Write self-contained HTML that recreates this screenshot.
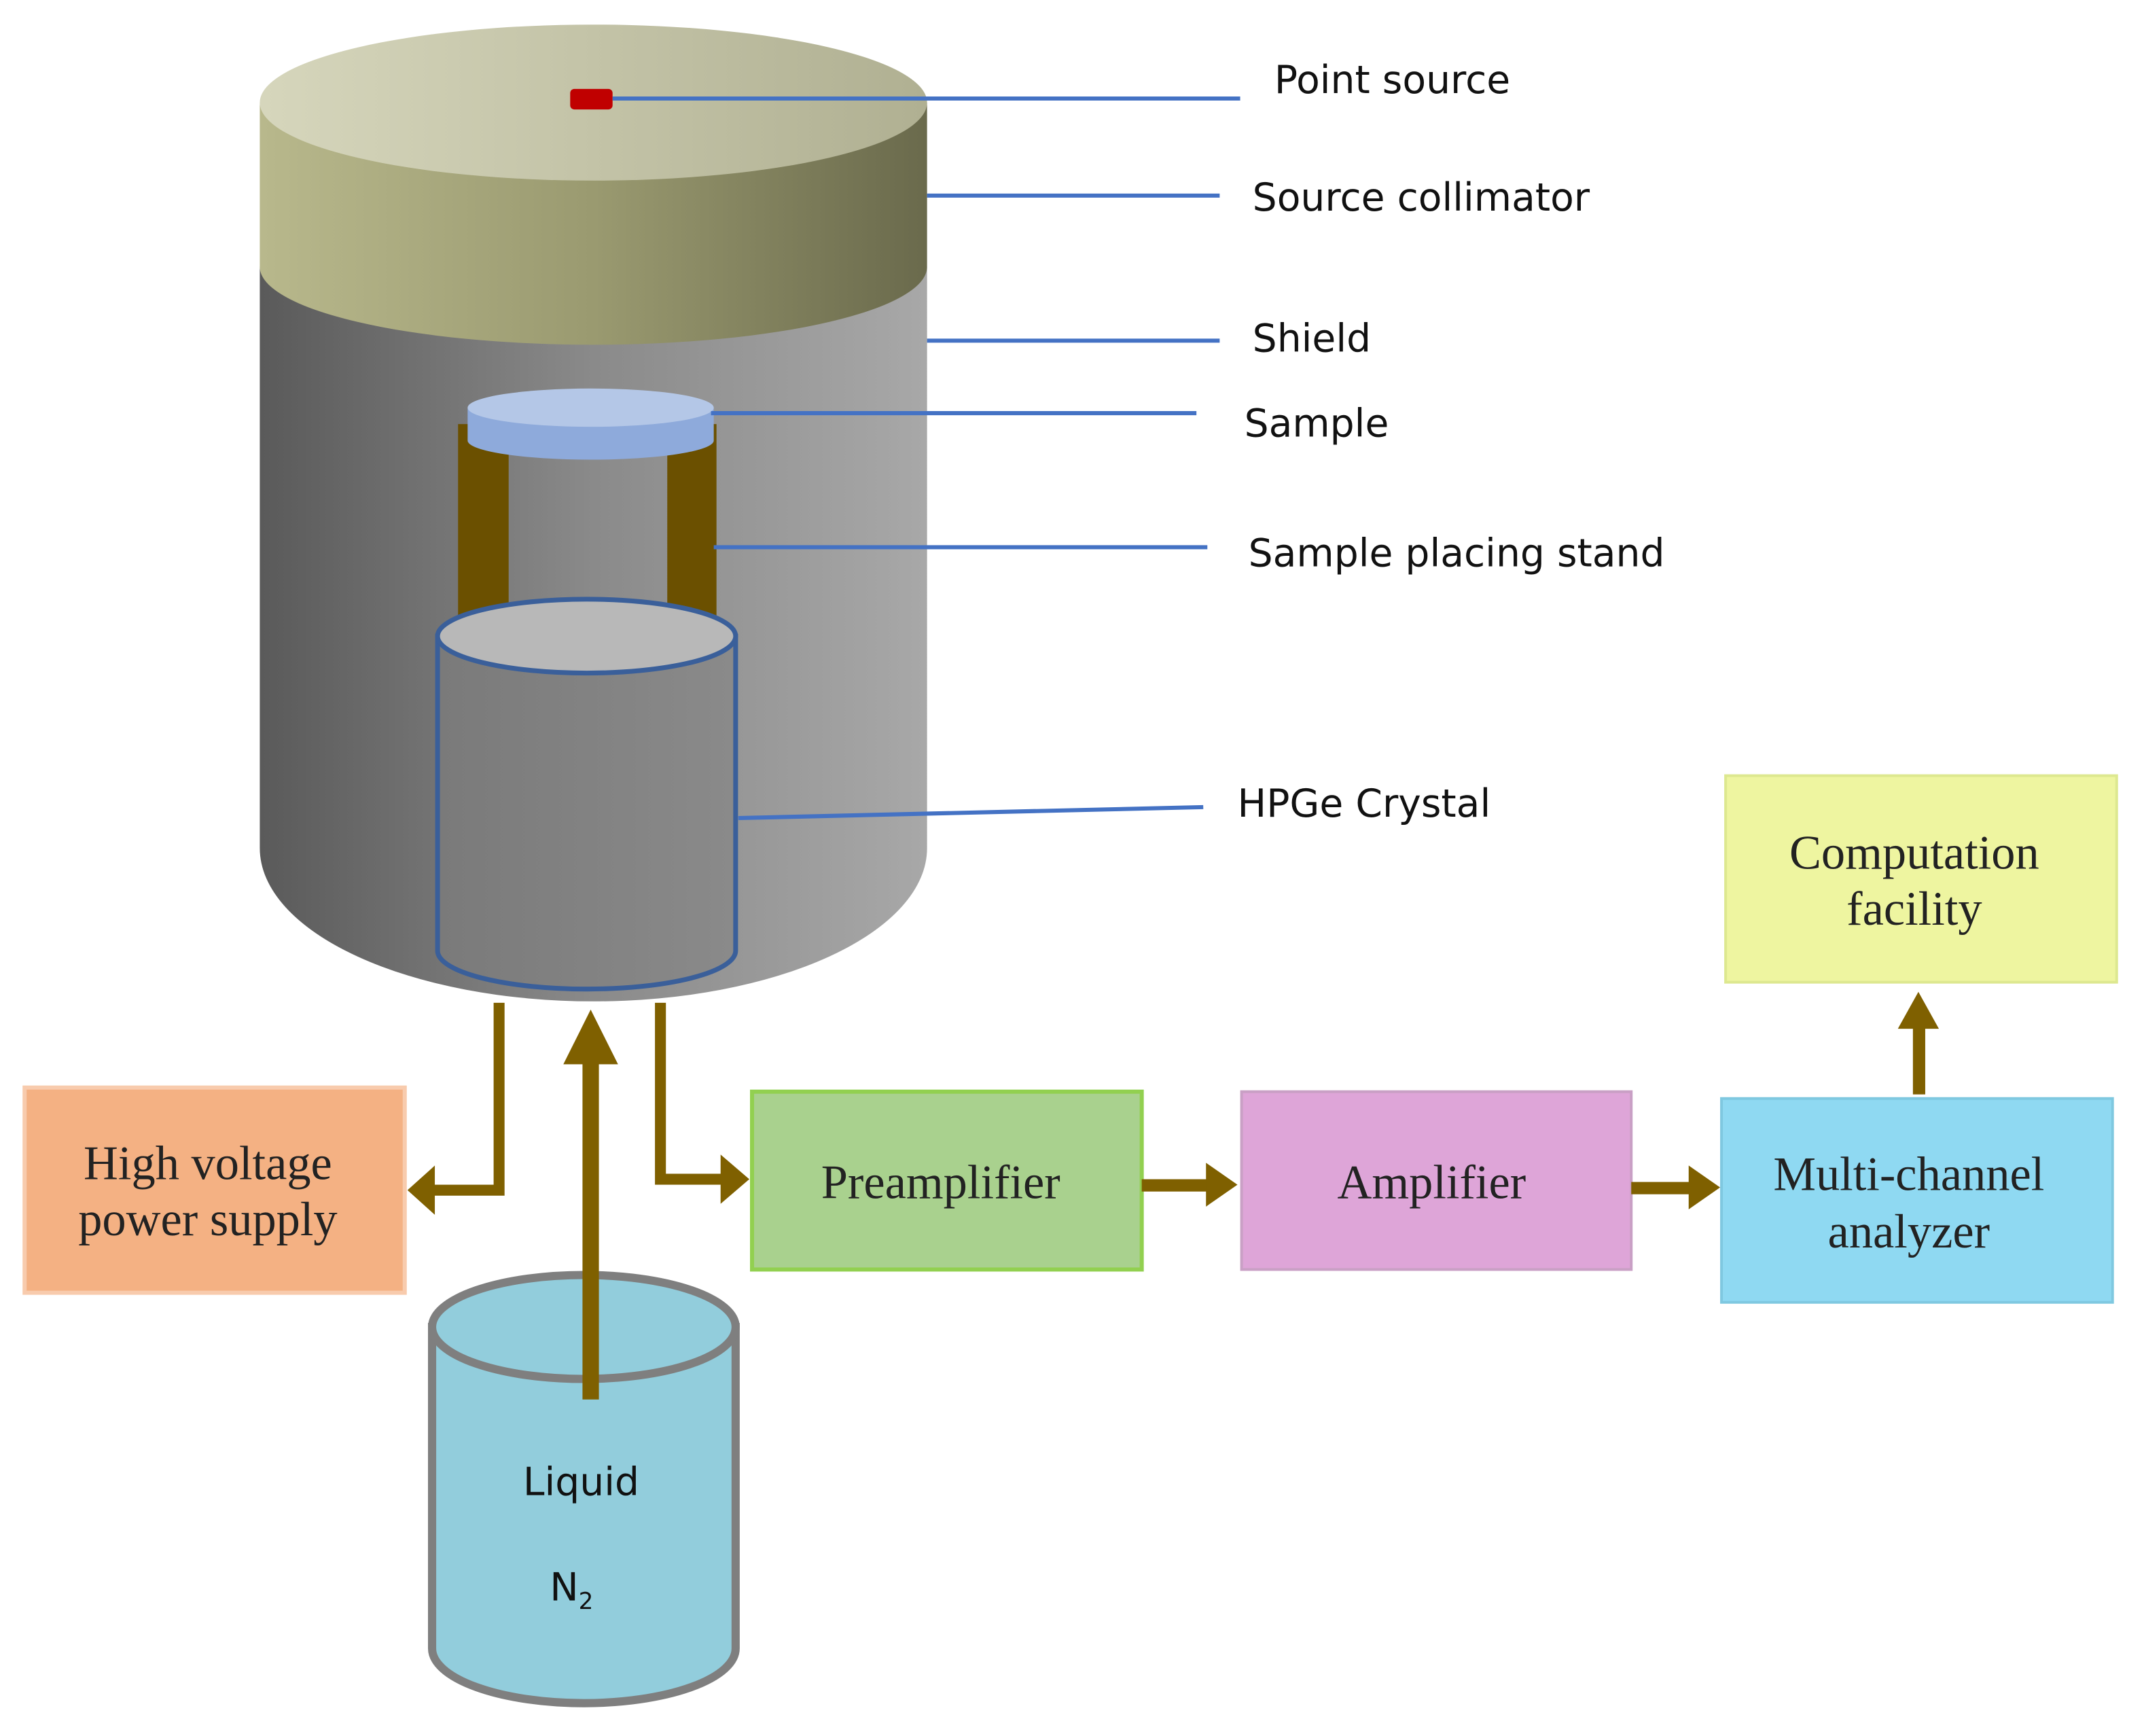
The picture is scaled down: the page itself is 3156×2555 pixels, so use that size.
<!DOCTYPE html>
<html><head><meta charset="utf-8"><style>
html,body{margin:0;padding:0;background:#fff;}
svg{display:block;}
.lbl{font-family:"DejaVu Sans","Liberation Sans",sans-serif;font-size:28.2px;fill:#111;}
.bx{font-family:"Liberation Serif",serif;font-size:35px;fill:#222;text-anchor:middle;}
</style></head><body>
<svg width="3156" height="2555" viewBox="0 0 1568 1269" preserveAspectRatio="none" xmlns="http://www.w3.org/2000/svg">
<defs>
<linearGradient id="sh" x1="0" x2="1"><stop offset="0" stop-color="#5a5a5a"/><stop offset="0.5" stop-color="#8a8a8a"/><stop offset="1" stop-color="#a8a8a8"/></linearGradient>
<linearGradient id="col" x1="0" x2="1"><stop offset="0" stop-color="#b8b88c"/><stop offset="0.5" stop-color="#9a9a70"/><stop offset="1" stop-color="#6a6a4c"/></linearGradient>
<linearGradient id="ct" x1="0" x2="1"><stop offset="0" stop-color="#d6d6bc"/><stop offset="1" stop-color="#b0b092"/></linearGradient>
<linearGradient id="cr" x1="0" x2="1"><stop offset="0" stop-color="#7a7a7a"/><stop offset="1" stop-color="#8a8a8a"/></linearGradient>
</defs>
<path d="M190 195 L190 620 A244 112 0 0 0 678 620 L678 195 Z" fill="url(#sh)"/>
<path d="M190 75 L190 195 A244 57 0 0 0 678 195 L678 75 Z" fill="url(#col)"/>
<ellipse cx="434" cy="75" rx="244" ry="57" fill="url(#ct)"/>
<rect x="417" y="65" width="31" height="15" rx="3" fill="#c00000"/>
<rect x="335" y="310" width="37" height="150" fill="#6b5000"/>
<rect x="488" y="310" width="36" height="150" fill="#6b5000"/>
<path d="M342 298 L342 322 A90 14 0 0 0 522 322 L522 298 Z" fill="#8eaadb"/>
<ellipse cx="432" cy="298" rx="90" ry="14" fill="#b4c7e7"/>
<path d="M320 465 L320 695 A109 28 0 0 0 538 695 L538 465 Z" fill="url(#cr)" stroke="#3a5f9a" stroke-width="3.5"/>
<ellipse cx="429" cy="465" rx="109" ry="27" fill="#b8b8b8" stroke="#3a5f9a" stroke-width="3.5"/>
<g stroke="#4472c4" stroke-width="3" fill="none">
<line x1="448" y1="72" x2="907" y2="72"/>
<line x1="678" y1="143" x2="892" y2="143"/>
<line x1="678" y1="249" x2="892" y2="249"/>
<line x1="520" y1="302" x2="875" y2="302"/>
<line x1="522" y1="400" x2="883" y2="400"/>
<line x1="540" y1="598" x2="880" y2="590"/>
</g>
<text class="lbl" x="932" y="68">Point source</text>
<text class="lbl" x="916" y="154">Source collimator</text>
<text class="lbl" x="916" y="257">Shield</text>
<text class="lbl" x="910" y="319">Sample</text>
<text class="lbl" x="913" y="414">Sample placing stand</text>
<text class="lbl" x="905" y="597">HPGe Crystal</text>
<rect x="18" y="795" width="278" height="150" fill="#f4b183" stroke="#f8cbad" stroke-width="3"/>
<text class="bx" x="152" y="862">High voltage</text><text class="bx" x="152" y="903">power supply</text>
<rect x="550" y="798" width="285" height="130" fill="#a9d18e" stroke="#92d050" stroke-width="3"/>
<text class="bx" x="688" y="876">Preamplifier</text>
<rect x="908" y="798" width="285" height="130" fill="#dea5d8" stroke="#c9a0c5" stroke-width="2"/>
<text class="bx" x="1047" y="876">Amplifier</text>
<rect x="1259" y="803" width="286" height="149" fill="#8fd9f2" stroke="#7fc8e0" stroke-width="2"/>
<text class="bx" x="1396" y="870">Multi-channel</text><text class="bx" x="1396" y="912">analyzer</text>
<rect x="1262" y="567" width="286" height="151" fill="#eef5a0" stroke="#dde890" stroke-width="2"/>
<text class="bx" x="1400" y="635">Computation</text><text class="bx" x="1400" y="676">facility</text>
<path d="M316 970 L316 1205 A111 40 0 0 0 538 1205 L538 970 Z" fill="#92cddc" stroke="#7f7f7f" stroke-width="6"/>
<ellipse cx="427" cy="970" rx="111" ry="38" fill="#92cddc" stroke="#7f7f7f" stroke-width="6"/>
<text class="lbl" x="425" y="1093" text-anchor="middle">Liquid</text>
<text class="lbl" x="418" y="1170" text-anchor="middle">N<tspan font-size="17" dy="6">2</tspan></text>
<g fill="#7f6000" stroke="none">
<polyline points="365,733 365,870 315,870" fill="none" stroke="#7f6000" stroke-width="8"/>
<polygon points="298,870 318,852 318,888"/>
<polyline points="483,733 483,862 530,862" fill="none" stroke="#7f6000" stroke-width="8"/>
<polygon points="548,862 527,844 527,880"/>
<rect x="426" y="775" width="12" height="248"/>
<polygon points="432,738 412,778 452,778"/>
<rect x="835" y="862" width="50" height="9"/>
<polygon points="905,866 882,850 882,882"/>
<rect x="1193" y="864" width="45" height="9"/>
<polygon points="1258,868 1235,852 1235,884"/>
<rect x="1399" y="750" width="9" height="50"/>
<polygon points="1403,725 1388,752 1418,752"/>
</g>
</svg>
</body></html>
